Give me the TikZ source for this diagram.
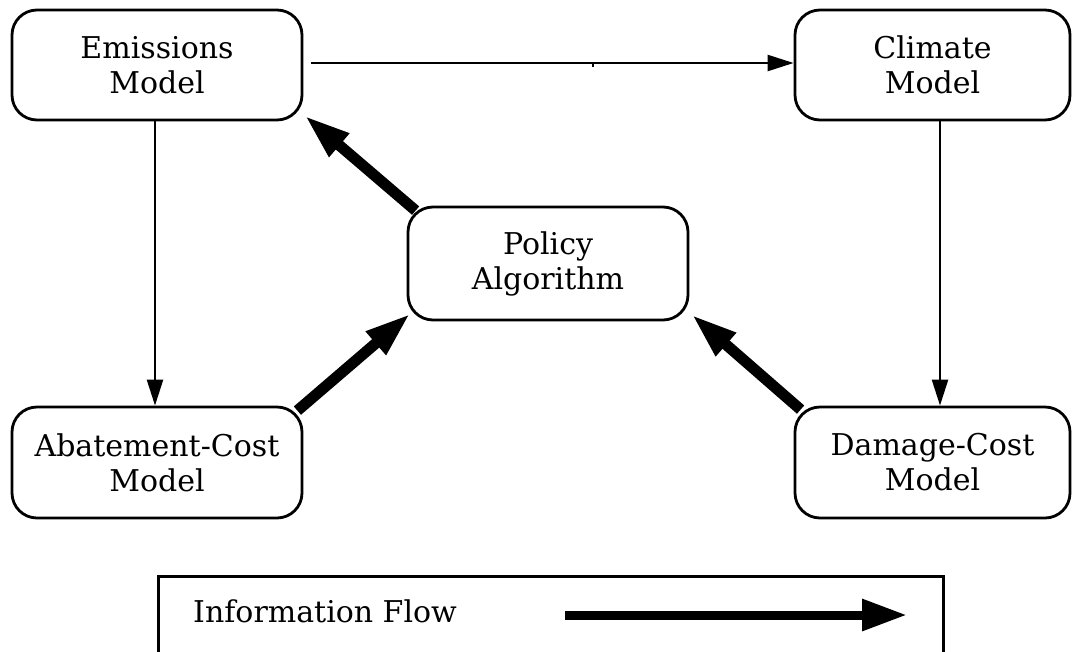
\documentclass[tikz,border=0pt]{standalone}
\usepackage{fontspec}
\setmainfont{DejaVu Serif}
\usetikzlibrary{arrows.meta}
\begin{document}
\begin{tikzpicture}[x=1pt,y=-1pt,
  model/.style={draw, line width=2.8pt, rounded corners=25pt, align=center,
    inner sep=0pt, font=\fontsize{30}{35}\selectfont},
  thin flow/.style={line width=2.4pt, -{Triangle[length=26pt,width=16pt]}},
  info flow/.style={line width=11pt, -{Triangle[length=46pt,width=28pt]}}]
\clip (0,0) rectangle (1073,651);

% model boxes
\node[model, minimum width=290pt, minimum height=110pt] (em) at (157,65) {Emissions\\Model};
\node[model, minimum width=275pt, minimum height=110pt] (cl) at (932.5,65) {Climate\\Model};
\node[model, minimum width=280pt, minimum height=113pt] (po) at (548,263.5) {Policy\\Algorithm};
\node[model, minimum width=290pt, minimum height=111pt] (ab) at (157,462.5) {Abatement-Cost\\Model};
\node[model, minimum width=275pt, minimum height=111pt] (dm) at (932.5,462.5) {Damage-Cost\\Model};

% model chain
\draw[thin flow] ([shift={(8pt,2pt)}]em.east) -- ([yshift=2pt]cl.west);
\coordinate (tick) at (593,63);
\draw[line width=2pt] (tick) -- ++(0,4);
\draw[thin flow] ([xshift=-2pt]em.south) -- ([xshift=-2pt]ab.north);
\draw[thin flow] ([xshift=7.5pt]cl.south) -- ([xshift=7.5pt]dm.north);

% information flow around the policy algorithm
\draw[info flow] ([shift={(9pt,-5pt)}]po.north west) -- ([shift={(1pt,6pt)}]em.south east);
\draw[info flow] ([shift={(-6pt,-5pt)}]ab.north east) -- ([shift={(4pt,8pt)}]po.south west);
\draw[info flow] ([shift={(7pt,-4pt)}]dm.north west) -- ([shift={(2pt,7pt)}]po.south east);

% legend
\node[draw, line width=2.8pt, minimum width=785pt, minimum height=100pt,
  anchor=north west, inner sep=0pt] (legend) at (157,575) {};
\node[anchor=base west, inner sep=0pt, font=\fontsize{30}{35}\selectfont] (lt) at (193,622) {Information Flow};
\coordinate (la) at (565,615);
\coordinate (lb) at (907,615);
\draw[line width=9pt, -{Triangle[length=45pt,width=30pt]}] (la) -- (lb);
\end{tikzpicture}
\end{document}
